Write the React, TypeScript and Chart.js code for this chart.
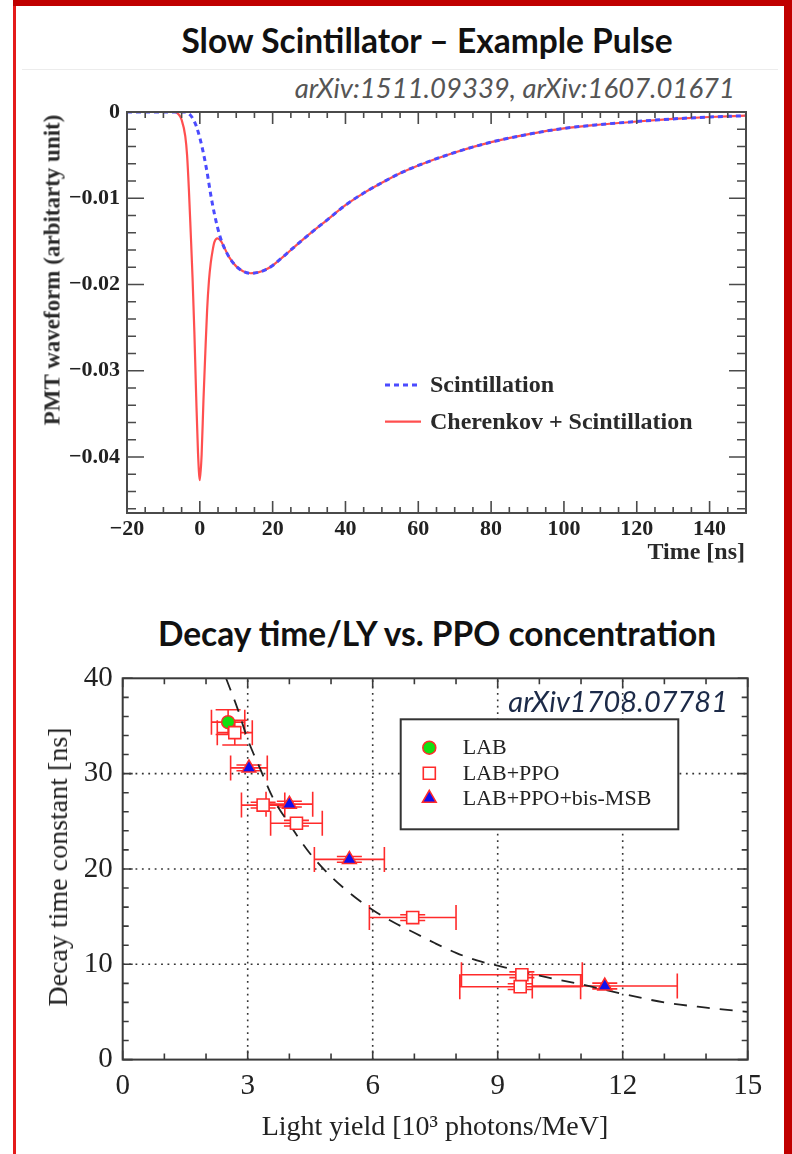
import React, { useEffect, useRef } from "react";
import { Chart, registerables } from "chart.js";

Chart.register(...registerables);

// ---------------- Chart 1: Slow scintillator example pulse ----------------
const pulseTimeTicks = [-20, 0, 20, 40, 60, 80, 100, 120, 140];
const pulseAmpTicks = [0, -0.01, -0.02, -0.03, -0.04];

const scintTime = [-20, -10, -5, -4, -3, -2, -1, 0, 1, 2, 3, 4, 5, 6, 8, 10, 12, 14, 16, 18, 20, 22, 25, 30, 35, 40, 45, 50, 55, 60, 70, 80, 90, 100, 110, 120, 130, 140, 150];
const scintAmp = [0, 0, 0, 0, -0.0002, -0.0007, -0.0016, -0.003, -0.0048, -0.007, -0.0096, -0.0118, -0.0136, -0.015, -0.0168, -0.0179, -0.0185, -0.0187, -0.0186, -0.0183, -0.0178, -0.0171, -0.016, -0.0142, -0.0125, -0.0108, -0.0094, -0.0082, -0.0071, -0.0062, -0.0047, -0.0035, -0.0026, -0.0019, -0.00145, -0.0011, -0.0008, -0.00058, -0.00043];

const cherTime = [-20, -10, -7, -6, -5, -4, -3.5, -3, -2.5, -2, -1.5, -1, -0.5, 0, 0.5, 1, 1.5, 2, 2.5, 3, 3.5, 4, 4.8, 5.5, 6, 8, 10, 12, 14, 16, 18, 20, 22, 25, 30, 35, 40, 45, 50, 55, 60, 70, 80, 90, 100, 110, 120, 130, 140, 150];
const cherAmp = [0, 0, 0, -0.0002, -0.0009, -0.0028, -0.005, -0.009, -0.014, -0.0192, -0.0255, -0.033, -0.0395, -0.0427, -0.0397, -0.0334, -0.028, -0.023, -0.0196, -0.0175, -0.0161, -0.0151, -0.01465, -0.0148, -0.0151, -0.0168, -0.0179, -0.0185, -0.0187, -0.0186, -0.0183, -0.0178, -0.0171, -0.016, -0.0142, -0.0125, -0.0108, -0.0094, -0.0082, -0.0071, -0.0062, -0.0047, -0.0035, -0.0026, -0.0019, -0.00145, -0.0011, -0.0008, -0.00058, -0.00043];

// ---------------- Chart 2: Decay time vs light yield ----------------
const lyTicks = [0, 3, 6, 9, 12, 15];
const tauTicks = [0, 10, 20, 30, 40];

const labLY = [2.53];
const labLYErr = [0.4];
const labTau = [35.4];
const labTauErr = [1.3];

const ppoLY = [2.69, 3.37, 4.17, 6.96, 9.58, 9.54];
const ppoLYErr = [0.42, 0.52, 0.62, 1.04, 1.45, 1.45];
const ppoTau = [34.3, 26.7, 24.8, 14.9, 8.9, 7.65];
const ppoTauErr = [1.3, 0.3, 0.3, 0.3, 0.3, 0.3];

const msbLY = [3.03, 4.0, 5.44, 11.57];
const msbLYErr = [0.44, 0.56, 0.84, 1.74];
const msbTau = [30.6, 26.8, 21.0, 7.72];
const msbTauErr = [0.3, 0.3, 0.3, 0.3];

const fitLY = [2.48, 2.75, 3.0, 3.3, 3.6, 4.0, 4.5, 5.0, 5.5, 6.0, 6.5, 7.0, 7.5, 8.0, 8.5, 9.0, 10, 11, 12, 13, 14, 15];
const fitTau = [40, 36.9, 33.6, 30.5, 27.5, 24.7, 21.6, 19.2, 17.3, 15.7, 14.4, 13.3, 12.2, 11.2, 10.4, 9.85, 8.8, 7.9, 6.9, 6.0, 5.45, 5.0];

// ---------------- layout ----------------
const C1 = { left: 20, top: 90, width: 760, height: 490 };
const A1 = { left: 127, top: 112, right: 746, bottom: 513 };
const C2 = { left: 20, top: 650, width: 760, height: 504 };
const A2 = { left: 122.7, top: 678.3, right: 747.7, bottom: 1059.6 };

const SERIF = '"Liberation Serif", "Times New Roman", serif';
const SANS = 'Lato, "Open Sans", sans-serif';

function steps(from: number, to: number, step: number) {
  const out: number[] = [];
  const n = Math.round((to - from) / step);
  for (let i = 0; i <= n; i++) out.push(+(from + i * step).toFixed(6));
  return out;
}

function drawTicks(chart: any, c: any) {
  const { ctx, chartArea: a } = chart;
  const xs = chart.scales.x;
  const ys = chart.scales.y;
  ctx.save();
  ctx.strokeStyle = c.color;
  ctx.lineWidth = c.tickWidth;
  ctx.beginPath();
  const xt = (vals: number[], len: number) =>
    vals.forEach((v) => {
      const p = xs.getPixelForValue(v);
      if (p < a.left - 0.5 || p > a.right + 0.5) return;
      ctx.moveTo(p, a.bottom);
      ctx.lineTo(p, a.bottom - len);
      ctx.moveTo(p, a.top);
      ctx.lineTo(p, a.top + len);
    });
  const yt = (vals: number[], len: number) =>
    vals.forEach((v) => {
      const p = ys.getPixelForValue(v);
      if (p < a.top - 0.5 || p > a.bottom + 0.5) return;
      ctx.moveTo(a.left, p);
      ctx.lineTo(a.left + len, p);
      ctx.moveTo(a.right, p);
      ctx.lineTo(a.right - len, p);
    });
  xt(c.xMinor, c.xMinLen);
  xt(c.xMajor, c.xMajLen);
  yt(c.yMinor, c.yMinLen);
  yt(c.yMajor, c.yMajLen);
  ctx.stroke();
  ctx.lineWidth = c.frameWidth;
  ctx.strokeRect(a.left, a.top, a.right - a.left, a.bottom - a.top);
  ctx.restore();
}

function fixedAxes(A: any, C: any) {
  return {
    yWidth: A.left - C.left,
    xHeight: C.top + C.height - A.bottom,
    padding: { top: A.top - C.top, right: C.left + C.width - A.right, left: 0, bottom: 0 },
  };
}

function pulseConfig() {
  const f = fixedAxes(A1, C1);
  const toPts = (xs: number[], ys: number[]) => xs.map((x, i) => ({ x, y: ys[i] }));
  const plugin = {
    id: "pulseDecor",
    afterDatasetsDraw(chart: any) {
      drawTicks(chart, {
        color: "#4a4a4a",
        tickWidth: 1.6,
        frameWidth: 2,
        xMajor: pulseTimeTicks,
        xMinor: steps(-20, 150, 5),
        yMajor: pulseAmpTicks,
        yMinor: steps(-0.046, 0, 0.002),
        xMajLen: 12,
        xMinLen: 6,
        yMajLen: 17,
        yMinLen: 9,
      });
    },
    afterDraw(chart: any) {
      const ctx = chart.ctx;
      const ds = chart.data.datasets;
      ctx.save();
      ctx.font = `bold 24px ${SERIF}`;
      ctx.fillStyle = "#2a2a2a";
      ctx.textBaseline = "middle";
      const rows = [
        { y: 385 - C1.top, d: ds[0] },
        { y: 421.7 - C1.top, d: ds[1] },
      ];
      rows.forEach((r) => {
        ctx.strokeStyle = r.d.borderColor;
        ctx.lineWidth = r.d.borderWidth;
        ctx.setLineDash(r.d.borderDash || []);
        ctx.beginPath();
        ctx.moveTo(385 - C1.left, r.y);
        ctx.lineTo(421 - C1.left, r.y);
        ctx.stroke();
        ctx.setLineDash([]);
        ctx.fillText(r.d.label, 430 - C1.left, r.y + 1);
      });
      ctx.restore();
    },
  };
  return {
    type: "scatter",
    data: {
      datasets: [
        {
          label: "Scintillation",
          data: toPts(scintTime, scintAmp),
          showLine: true,
          borderColor: "#4b4bff",
          borderWidth: 3,
          borderDash: [5, 4],
          pointRadius: 0,
          cubicInterpolationMode: "monotone",
        },
        {
          label: "Cherenkov + Scintillation",
          data: toPts(cherTime, cherAmp),
          showLine: true,
          borderColor: "rgba(255,60,60,0.9)",
          borderWidth: 2.2,
          pointRadius: 0,
          cubicInterpolationMode: "monotone",
        },
      ],
    },
    options: {
      animation: false,
      responsive: false,
      devicePixelRatio: 1,
      events: [],
      layout: { padding: f.padding },
      plugins: { legend: { display: false }, tooltip: { enabled: false } },
      scales: {
        x: {
          type: "linear",
          min: -20,
          max: 150,
          grid: { display: false, drawTicks: false },
          border: { display: false },
          afterBuildTicks: (s: any) => {
            s.ticks = pulseTimeTicks.map((v) => ({ value: v }));
          },
          afterFit: (s: any) => {
            s.height = f.xHeight;
          },
          ticks: {
            padding: 3,
            maxRotation: 0,
            autoSkip: false,
            color: "#222",
            font: { family: SERIF, size: 22, weight: "bold" },
            callback: (v: number) => (v < 0 ? "\u2212" + Math.abs(v) : String(v)),
          },
        },
        y: {
          type: "linear",
          min: -0.0465,
          max: 0,
          grid: { display: false, drawTicks: false },
          border: { display: false },
          afterBuildTicks: (s: any) => {
            s.ticks = pulseAmpTicks.map((v) => ({ value: v }));
          },
          afterFit: (s: any) => {
            s.width = f.yWidth;
          },
          ticks: {
            padding: 7,
            autoSkip: false,
            color: "#222",
            font: { family: SERIF, size: 22, weight: "bold" },
            callback: (v: number) => (v === 0 ? "0" : "\u2212" + Math.abs(v).toFixed(2)),
          },
        },
      },
    },
    plugins: [plugin],
  };
}

function decayConfig() {
  const f = fixedAxes(A2, C2);
  const pts = (xs: number[], xe: number[], ys: number[], ye: number[]) =>
    xs.map((x, i) => ({ x, y: ys[i], xErr: xe[i], yErr: ye[i] }));
  const RED = "#ff2b2b";
  const plugin = {
    id: "decayDecor",
    beforeDatasetsDraw(chart: any) {
      const { ctx, chartArea: a } = chart;
      const xs = chart.scales.x;
      const ys = chart.scales.y;
      ctx.save();
      // dotted grid
      ctx.strokeStyle = "#333";
      ctx.lineWidth = 1.6;
      ctx.setLineDash([1.8, 4.6]);
      ctx.beginPath();
      lyTicks.slice(1, -1).forEach((v) => {
        const p = xs.getPixelForValue(v);
        ctx.moveTo(p, a.bottom);
        ctx.lineTo(p, a.top);
      });
      tauTicks.slice(1, -1).forEach((v) => {
        const p = ys.getPixelForValue(v);
        ctx.moveTo(a.left, p);
        ctx.lineTo(a.right, p);
      });
      ctx.stroke();
      ctx.setLineDash([]);
      // error bars
      ctx.strokeStyle = RED;
      ctx.lineWidth = 1.6;
      ctx.beginPath();
      chart.data.datasets.forEach((d: any) => {
        d.data.forEach((p: any) => {
          if (p.xErr === undefined) return;
          const cx = xs.getPixelForValue(p.x);
          const cy = ys.getPixelForValue(p.y);
          const x0 = xs.getPixelForValue(p.x - p.xErr);
          const x1 = xs.getPixelForValue(p.x + p.xErr);
          const y0 = ys.getPixelForValue(p.y - p.yErr);
          const y1 = ys.getPixelForValue(p.y + p.yErr);
          const cap = 12.5;
          ctx.moveTo(x0, cy);
          ctx.lineTo(x1, cy);
          ctx.moveTo(x0, cy - cap);
          ctx.lineTo(x0, cy + cap);
          ctx.moveTo(x1, cy - cap);
          ctx.lineTo(x1, cy + cap);
          ctx.moveTo(cx, y0);
          ctx.lineTo(cx, y1);
          ctx.moveTo(cx - cap, y0);
          ctx.lineTo(cx + cap, y0);
          ctx.moveTo(cx - cap, y1);
          ctx.lineTo(cx + cap, y1);
        });
      });
      ctx.stroke();
      ctx.restore();
    },
    afterDatasetsDraw(chart: any) {
      drawTicks(chart, {
        color: "#3a3a3a",
        tickWidth: 1.6,
        frameWidth: 2,
        xMajor: lyTicks,
        xMinor: steps(0, 15, 1),
        yMajor: tauTicks,
        yMinor: steps(0, 40, 2),
        xMajLen: 9,
        xMinLen: 6,
        yMajLen: 10,
        yMinLen: 6,
      });
    },
    afterDraw(chart: any) {
      const ctx = chart.ctx;
      const ox = C2.left;
      const oy = C2.top;
      ctx.save();
      const bx = 400.7 - ox;
      const by = 719.3 - oy;
      ctx.fillStyle = "#fff";
      ctx.fillRect(bx, by, 277.6, 110);
      ctx.strokeStyle = "#333";
      ctx.lineWidth = 2;
      ctx.strokeRect(bx, by, 277.6, 110);
      const ds = chart.data.datasets;
      const rows = [
        { y: 747.7 - oy, d: ds[1] },
        { y: 773.3 - oy, d: ds[2] },
        { y: 798.3 - oy, d: ds[3] },
      ];
      const mx = 429.3 - ox;
      rows.forEach((r) => {
        const d = r.d;
        ctx.fillStyle = d.backgroundColor;
        ctx.strokeStyle = d.borderColor;
        ctx.lineWidth = d.borderWidth;
        ctx.beginPath();
        const rad = d.pointRadius;
        if (d.pointStyle === "circle") {
          ctx.arc(mx, r.y, rad, 0, Math.PI * 2);
        } else if (d.pointStyle === "rect") {
          const s = rad * Math.SQRT1_2;
          ctx.rect(mx - s, r.y - s, 2 * s, 2 * s);
        } else {
          ctx.moveTo(mx, r.y - rad);
          ctx.lineTo(mx + rad * 0.866, r.y + rad * 0.5);
          ctx.lineTo(mx - rad * 0.866, r.y + rad * 0.5);
          ctx.closePath();
        }
        ctx.fill();
        ctx.stroke();
        ctx.fillStyle = "#222";
        ctx.font = `22px ${SERIF}`;
        ctx.textBaseline = "middle";
        ctx.fillText(d.label, 462.7 - ox, r.y + 1);
      });
      ctx.restore();
    },
  };
  return {
    type: "scatter",
    data: {
      datasets: [
        {
          label: "fit",
          data: fitLY.map((x, i) => ({ x, y: fitTau[i] })),
          showLine: true,
          borderColor: "#222",
          borderWidth: 1.8,
          borderDash: [13, 10],
          pointRadius: 0,
          cubicInterpolationMode: "monotone",
          order: 3,
        },
        {
          label: "LAB",
          data: pts(labLY, labLYErr, labTau, labTauErr),
          pointStyle: "circle",
          pointRadius: 6.5,
          backgroundColor: "#12e012",
          borderColor: RED,
          borderWidth: 1.5,
          order: 2,
        },
        {
          label: "LAB+PPO",
          data: pts(ppoLY, ppoLYErr, ppoTau, ppoTauErr),
          pointStyle: "rect",
          pointRadius: 8.5,
          backgroundColor: "#ffffff",
          borderColor: RED,
          borderWidth: 1.6,
          order: 1,
        },
        {
          label: "LAB+PPO+bis-MSB",
          data: pts(msbLY, msbLYErr, msbTau, msbTauErr),
          pointStyle: "triangle",
          pointRadius: 8,
          backgroundColor: "#1010ee",
          borderColor: RED,
          borderWidth: 1.5,
          order: 0,
        },
      ],
    },
    options: {
      animation: false,
      responsive: false,
      devicePixelRatio: 1,
      events: [],
      layout: { padding: f.padding },
      plugins: { legend: { display: false }, tooltip: { enabled: false } },
      scales: {
        x: {
          type: "linear",
          min: 0,
          max: 15,
          grid: { display: false, drawTicks: false },
          border: { display: false },
          afterBuildTicks: (s: any) => {
            s.ticks = lyTicks.map((v) => ({ value: v }));
          },
          afterFit: (s: any) => {
            s.height = f.xHeight;
          },
          ticks: {
            padding: 9,
            maxRotation: 0,
            autoSkip: false,
            color: "#222",
            font: { family: SERIF, size: 29 },
          },
        },
        y: {
          type: "linear",
          min: 0,
          max: 40,
          grid: { display: false, drawTicks: false },
          border: { display: false },
          afterBuildTicks: (s: any) => {
            s.ticks = tauTicks.map((v) => ({ value: v }));
          },
          afterFit: (s: any) => {
            s.width = f.yWidth;
          },
          ticks: {
            padding: 10,
            autoSkip: false,
            color: "#222",
            font: { family: SERIF, size: 29 },
          },
        },
      },
    },
    plugins: [plugin],
  };
}

function ChartBox({ box, make }: { box: any; make: () => any }) {
  const ref = useRef<HTMLCanvasElement>(null);
  useEffect(() => {
    const chart = new Chart(ref.current as HTMLCanvasElement, make() as any);
    return () => chart.destroy();
  }, []);
  return (
    <canvas
      ref={ref}
      width={box.width}
      height={box.height}
      style={{ position: "absolute", left: box.left, top: box.top, width: box.width, height: box.height }}
    />
  );
}

function Label({ x, y, align = "center", rotate = false, style, children }: any) {
  const tx = align === "center" ? "-50%" : align === "right" ? "-100%" : "0";
  return (
    <div
      style={{
        position: "absolute",
        left: x,
        top: y,
        transform: rotate ? "translate(-50%,-50%) rotate(-90deg)" : `translate(${tx},-50%)`,
        whiteSpace: "nowrap",
        lineHeight: 1,
        ...style,
      }}
    >
      {children}
    </div>
  );
}

export default function App() {
  return (
    <div
      style={{
        position: "absolute",
        left: 0,
        top: 0,
        width: 792,
        height: 1154,
        overflow: "hidden",
        background: "#fff",
      }}
    >
      {/* slide frame */}
      <div style={{ position: "absolute", left: 13, top: 0, width: 2.5, height: 1154, background: "#e41b1b" }} />
      <div style={{ position: "absolute", left: 13, top: 0, width: 779, height: 6, background: "#c00000" }} />
      <div style={{ position: "absolute", left: 784, top: 0, width: 8, height: 1154, background: "#c00000" }} />
      <div style={{ position: "absolute", left: 22, top: 69, width: 756, height: 1, background: "#ececec" }} />

      <Label x={427} y={41} style={{ fontFamily: SANS, fontWeight: 700, fontSize: 33.5, color: "#111" }}>
        Slow Scintillator – Example Pulse
      </Label>
      <Label x={735} y={88} align="right" style={{ fontFamily: SANS, fontStyle: "italic", fontSize: 27.5, color: "#555" }}>
        arXiv:1511.09339, arXiv:1607.01671
      </Label>

      <ChartBox box={C1} make={pulseConfig} />
      <Label x={52} y={270} rotate style={{ fontFamily: SERIF, fontWeight: 700, fontSize: 23, color: "#2a2a2a" }}>
        PMT waveform (arbitarty unit)
      </Label>
      <Label x={745} y={551} align="right" style={{ fontFamily: SERIF, fontWeight: 700, fontSize: 24, color: "#2a2a2a" }}>
        Time [ns]
      </Label>

      <Label x={437} y={634} style={{ fontFamily: SANS, fontWeight: 700, fontSize: 33.5, color: "#111" }}>
        Decay time/LY vs. PPO concentration
      </Label>

      <ChartBox box={C2} make={decayConfig} />
      <Label x={728} y={700} align="right" style={{ fontFamily: SANS, fontStyle: "italic", fontSize: 29, color: "#1c2a48" }}>
        arXiv1708.07781
      </Label>
      <Label x={58} y={867} rotate style={{ fontFamily: SERIF, fontSize: 28, color: "#222" }}>
        Decay time constant [ns]
      </Label>
      <Label x={435} y={1126} style={{ fontFamily: SERIF, fontSize: 28, color: "#222" }}>
        Light yield [10³ photons/MeV]
      </Label>
    </div>
  );
}
